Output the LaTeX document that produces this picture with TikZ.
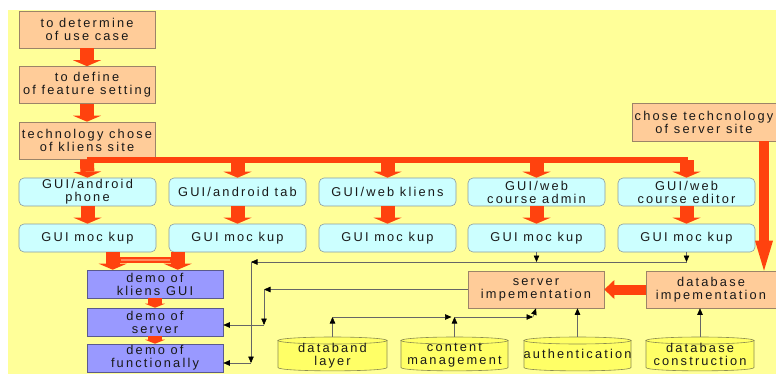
\documentclass[tikz,border=0pt]{standalone}
\usepackage{fontspec}
\setmainfont{Liberation Sans}[LetterSpace=17]
\usetikzlibrary{arrows.meta,calc}
\definecolor{bgY}{HTML}{FFFF99}
\definecolor{peach}{HTML}{FFCC99}
\definecolor{peachB}{HTML}{9C8468}
\definecolor{cyanF}{HTML}{CCFFFF}
\definecolor{cyanB}{HTML}{8C9CA0}
\definecolor{lav}{HTML}{9999FF}
\definecolor{lavB}{HTML}{5A5A8C}
\definecolor{arrO}{HTML}{FF420E}
\definecolor{arrL}{HTML}{FF8A5C}
\definecolor{cylF}{HTML}{FFFF66}
\definecolor{cylB}{HTML}{8C8C50}
\newcommand\mkcyl[5]{%
  \pgfmathsetmacro\cA{#2-#4/2}\pgfmathsetmacro\cB{#2+#4/2}%
  \pgfmathsetmacro\tA{#3+3.5}\pgfmathsetmacro\bA{#3+30.5}\pgfmathsetmacro\bC{#3+35}%
  \filldraw[draw=cylB, fill=cylF, line width=0.6pt] (\cA,\tA) -- (\cA,\bA) .. controls (\cA,\bC) and (\cB,\bC) .. (\cB,\bA) -- (\cB,\tA) -- cycle;
  \filldraw[draw=cylB, fill=cylF, line width=0.6pt] (#2,\tA) ellipse [x radius=#4/2, y radius=3.5];
  \node[minimum width=#4pt, minimum height=34pt, text depth=0pt] (#1) at (#2,#3+17) {#5};
}
\begin{document}
\begin{tikzpicture}[x=1pt,y=-1pt,
  every node/.style={font=\fontsize{12.8}{13}\selectfont, text=black!90, align=center, inner sep=0pt},
  obox/.style={draw=peachB, fill=peach, line width=0.6pt, minimum width=136pt, minimum height=37pt},
  cbox/.style={draw=cyanB, fill=cyanF, line width=0.6pt, rounded corners=5pt, minimum width=137pt, minimum height=28pt},
  pbox/.style={draw=lavB, fill=lav, line width=0.6pt, minimum width=136pt, minimum height=28pt},
  bigarr/.style={draw=arrO, line width=14pt, -{Triangle[width=28pt,length=6pt,line width=0pt]}},
  midarr/.style={draw=arrO, line width=14pt, -{Triangle[width=20pt,length=4pt,line width=0pt]}},
  tarr/.style={draw=black!60, line width=0.6pt, -{Triangle[width=5.5pt,length=6.5pt,color=black]}}
]
\useasboundingbox (0,0) rectangle (776,374);
\fill[white] (0,0) rectangle (776,374);
\fill[bgY] (8,10) rectangle (776,374);

% left column
\node[obox] (uc) at (87,29.5) {to determine\\of use case};
\node[obox] (fs) at (87,85) {to define\\of feature setting};
\node[obox] (tc) at (87,140.5) {technology chose\\of kliens site};

% right boxes
\node[obox, minimum width=144pt, minimum height=38pt] (ss) at (704,122) {chose techcnology\\of server site};
\node[obox] (si) at (536,289.5) {server\\impementation};
\node[obox, minimum width=130pt] (di) at (711,289.5) {database\\impementation};

% GUI rows
\node[cbox] (g1) at (87.5,192) {GUI/android\\phone};
\node[cbox] (g2) at (237.5,192) {GUI/android tab};
\node[cbox] (g3) at (387.5,192) {GUI/web kliens};
\node[cbox] (g4) at (536.5,192) {GUI/web\\course admin};
\node[cbox] (g5) at (686.5,192) {GUI/web\\course editor};
\node[cbox] (m1) at (87.5,238) {GUI moc kup};
\node[cbox] (m2) at (237.5,238) {GUI moc kup};
\node[cbox] (m3) at (387.5,238) {GUI moc kup};
\node[cbox] (m4) at (536.5,238) {GUI moc kup};
\node[cbox] (m5) at (686.5,238) {GUI moc kup};

% demo boxes
\node[pbox] (dk) at (155,284) {demo of\\kliens GUI};
\node[pbox] (ds) at (155,322) {demo of\\server};
\node[pbox] (df) at (155,358) {demo of\\functionally};

% cylinders
\mkcyl{dl}{332.5}{337}{109}{databand\\layer}
\mkcyl{cm}{454.5}{337}{107}{content\\management}
\mkcyl{au}{577.5}{337}{107}{authentication}
\mkcyl{dc}{700}{337}{108}{database\\construction}

% big orange arrows, left column
\draw[bigarr] (uc.south) -- (fs.north);
\draw[bigarr] (fs.south) -- (tc.north);
\coordinate (barL) at ([yshift=-1pt]tc.south);
\coordinate (barR) at (barL -| g5.north);
\draw[arrO, line width=6pt] (barL) -- ([xshift=1pt]barR);
\draw[bigarr] (tc.south) -- (g1.north);
\draw[bigarr] (g2.north |- barL) -- (g2.north);
\draw[bigarr] (g3.north |- barL) -- (g3.north);
\draw[bigarr] (g4.north |- barL) -- (g4.north);
\draw[bigarr] (g5.north |- barL) -- (g5.north);
\foreach \i in {1,...,5} { \draw[bigarr] (g\i.south) -- (m\i.north); }

% into demo
\coordinate (da) at ([xshift=26pt]dk.north west);
\coordinate (db) at ([xshift=91pt]dk.north west);
\draw[bigarr] (da |- m1.south) -- (da);
\draw[bigarr] (db |- m2.south) -- (db);
\draw[arrO, line width=6pt] (da |- 0,260) -- (db |- 0,260);
\draw[arrL, line width=1.6pt] ([xshift=8pt]da |- 0,260) -- ([xshift=-8pt]db |- 0,260);
\draw[midarr] (dk.south) -- (ds.north);
\draw[midarr] (ds.south) -- (df.north);

% server side orange arrows
\draw[draw=arrO, line width=10pt, -{Triangle[width=18pt,length=30pt,line width=0pt]}] ([xshift=60pt]ss.south) -- ([xshift=60pt]ss.south |- di.north);
\draw[draw=arrO, line width=10pt, -{Triangle[width=19pt,length=10pt,line width=0pt]}] (di.west) -- (si.east);

% thin connectors
\coordinate (ja) at (251,262);
\coordinate (jb) at (251,363);
\draw[tarr] (m4.south) -- (m4.south |- ja);
\draw[tarr] (m5.south) -- (m5.south |- ja);
\draw[tarr] (m5.south |- ja) -- (ja);
\draw[tarr] (ja) -- (jb);
\draw[tarr] (jb) -- (df.east |- jb);
\coordinate (jc) at (si.west -| 264,0);
\coordinate (jd) at (264,325);
\draw[tarr] (si.west) -- (jc);
\draw[tarr] (jc) -- (jd);
\draw[tarr] (jd) -- (ds.east |- jd);
\coordinate (je) at (dl.north |- 0,317);
\coordinate (jf) at (cm.north |- 0,317);
\coordinate (jg) at (533,317);
\draw[tarr] (dl.north) -- (je);
\draw[tarr] (cm.north) -- (jf);
\draw[tarr] (je) -- ([xshift=-3pt]jf);
\draw[tarr] (jf) -- (jg);
\draw[tarr] (jg) -- (si.south);
\draw[tarr] (au.north) -- (au.north |- si.south);
\draw[tarr] (dc.north) -- (dc.north |- di.south);
\end{tikzpicture}
\end{document}
